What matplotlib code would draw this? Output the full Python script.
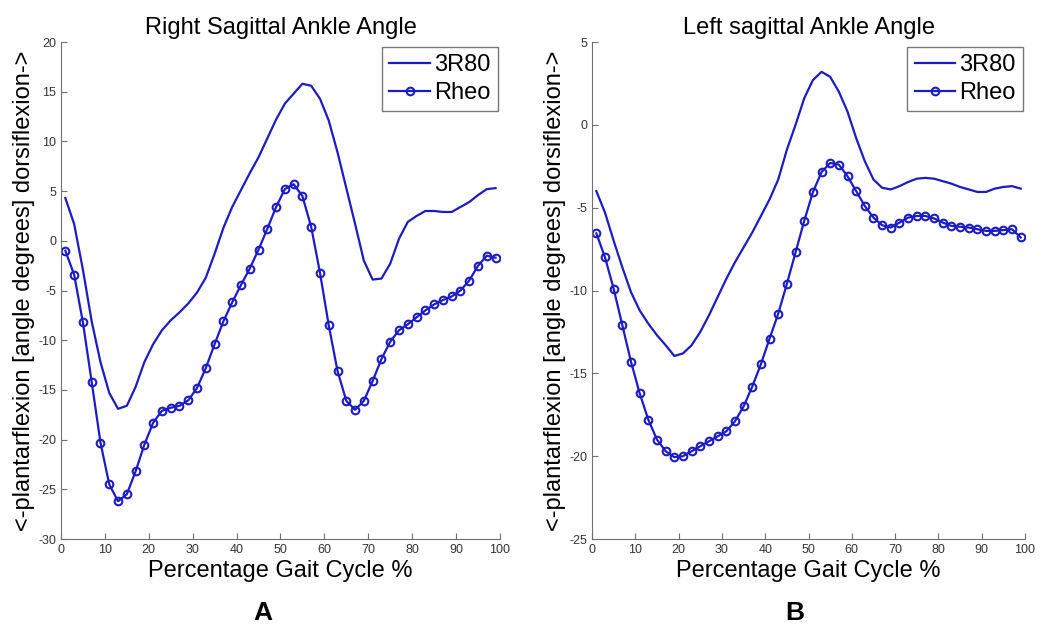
import numpy as np
import matplotlib
matplotlib.use('Agg')
import matplotlib.pyplot as plt

plt.rcParams['font.family'] = ['Liberation Sans', 'DejaVu Sans']
plt.rcParams['axes.unicode_minus'] = False

# gait cycle samples (odd percentages)
gait_pct = np.arange(1, 100, 2)

# Right side
right_3r80 = [4.3, 1.7, -2.9, -8.1, -12.2, -15.3, -16.9, -16.6, -14.7, -12.2,
              -10.4, -9.0, -8.0, -7.2, -6.3, -5.2, -3.7, -1.3, 1.3, 3.4,
              5.1, 6.8, 8.4, 10.3, 12.2, 13.8, 14.8, 15.8, 15.6, 14.3,
              12.1, 8.9, 5.3, 1.7, -2.0, -3.9, -3.8, -2.3, 0.2, 1.9,
              2.5, 3.0, 3.0, 2.9, 2.9, 3.4, 3.9, 4.6, 5.2, 5.3]
right_rheo = [-1.0, -3.4, -8.2, -14.2, -20.3, -24.5, -26.2, -25.5, -23.2, -20.5,
              -18.3, -17.1, -16.8, -16.6, -16.05, -14.8, -12.8, -10.4, -8.1, -6.2,
              -4.45, -2.8, -0.9, 1.2, 3.4, 5.2, 5.7, 4.5, 1.4, -3.2,
              -8.5, -13.1, -16.1, -17.0, -16.1, -14.1, -11.9, -10.15, -9.0, -8.4,
              -7.7, -7.0, -6.4, -5.96, -5.6, -5.0, -4.0, -2.5, -1.5, -1.7]

# Left side
left_3r80 = [-4.0, -5.3, -7.0, -8.6, -10.1, -11.2, -12.0, -12.7, -13.3, -13.95,
             -13.8, -13.3, -12.5, -11.5, -10.4, -9.3, -8.3, -7.4, -6.5, -5.5,
             -4.5, -3.3, -1.5, 0.0, 1.6, 2.7, 3.2, 2.9, 2.0, 0.8,
             -0.8, -2.2, -3.3, -3.8, -3.9, -3.7, -3.45, -3.25, -3.2, -3.25,
             -3.4, -3.55, -3.75, -3.9, -4.05, -4.05, -3.85, -3.75, -3.7, -3.85]
left_rheo = [-6.55, -8.0, -9.9, -12.1, -14.3, -16.2, -17.8, -19.0, -19.7, -20.06,
             -20.0, -19.7, -19.4, -19.1, -18.8, -18.5, -17.9, -17.0, -15.8, -14.45,
             -12.9, -11.4, -9.6, -7.7, -5.8, -4.07, -2.85, -2.3, -2.4, -3.1,
             -4.0, -4.9, -5.6, -6.06, -6.2, -5.9, -5.6, -5.5, -5.5, -5.65,
             -5.9, -6.1, -6.15, -6.2, -6.3, -6.4, -6.4, -6.35, -6.3, -6.8]

blue = '#1c1cc4'
ylab = '<-plantarflexion [angle degrees] dorsiflexion->'

fig = plt.figure(figsize=(10.51, 6.28), dpi=100)
ax1 = fig.add_axes([0.058, 0.1417, 0.4177, 0.7914])
ax2 = fig.add_axes([0.5633, 0.1417, 0.412, 0.7914])

panels = [
    (ax1, right_3r80, right_rheo, 'Right Sagittal Ankle Angle', (-30, 20)),
    (ax2, left_3r80, left_rheo, 'Left sagittal Ankle Angle', (-25, 5)),
]

for ax, y3, yr, title, ylim in panels:
    ax.plot(gait_pct, y3, '-', color=blue, linewidth=1.6, label='3R80')
    ax.plot(gait_pct, yr, 'o-', color=blue, linewidth=1.6, markersize=5.5,
            markerfacecolor='none', markeredgewidth=1.5, label='Rheo')
    ax.set_xlim(0, 100)
    ax.set_ylim(*ylim)
    ax.set_xticks(np.arange(0, 101, 10))
    ax.set_yticks(np.arange(ylim[0], ylim[1] + 1, 5))
    for side in ['top', 'right']:
        ax.spines[side].set_visible(False)
    for side in ['left', 'bottom']:
        ax.spines[side].set_color('#707070')
    ax.tick_params(direction='in', length=4, colors='#707070', labelcolor='#333333',
                   labelsize=9)
    ax.set_title(title, fontsize=17, pad=6)
    ax.set_xlabel('Percentage Gait Cycle %', fontsize=17, labelpad=3)
    ax.set_ylabel(ylab, fontsize=17, labelpad=2)
    leg = ax.legend(loc='upper right', fontsize=17, fancybox=False, handlelength=1.7,
                    handletextpad=0.2, borderpad=0.3, labelspacing=0.25,
                    bbox_to_anchor=(0.995, 0.99), borderaxespad=0)
    leg.get_frame().set_edgecolor('#555555')
    leg.get_frame().set_linewidth(1.0)

fig.text(0.25, 0.024, 'A', fontsize=19, fontweight='bold', ha='center', va='center')
fig.text(0.756, 0.024, 'B', fontsize=19, fontweight='bold', ha='center', va='center')

plt.savefig('out.png', dpi=100)
